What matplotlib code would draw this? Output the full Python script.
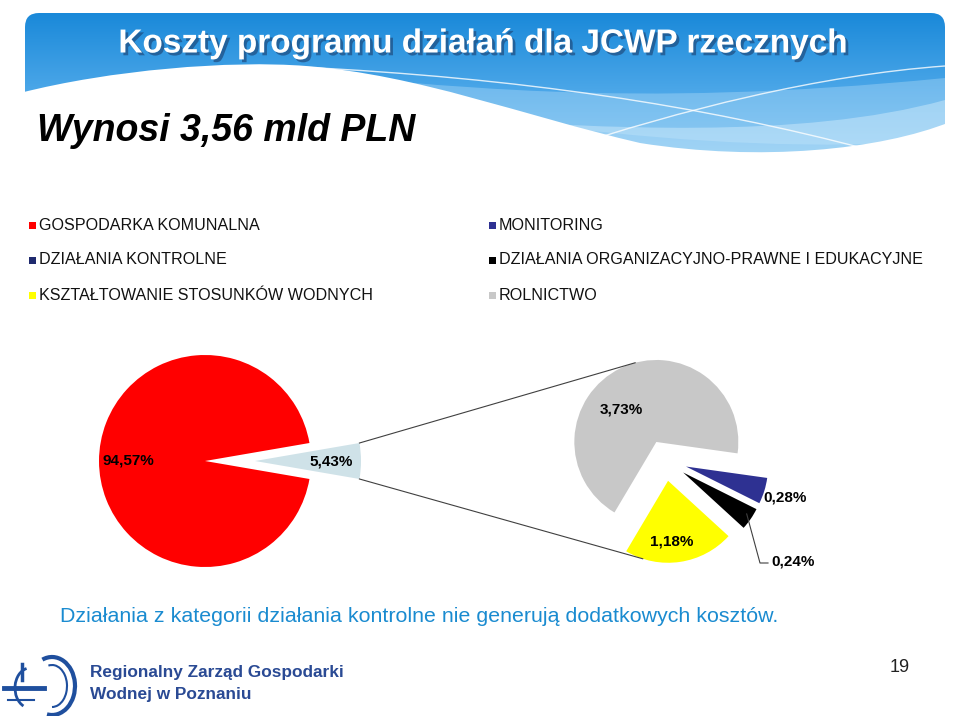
import numpy as np
import matplotlib.pyplot as plt
from matplotlib.patches import FancyBboxPatch, PathPatch, Rectangle, Arc
from matplotlib.path import Path
from matplotlib.colors import LinearSegmentedColormap
import matplotlib.patheffects as pe

W, H = 960, 716

title = "Koszty programu działań dla JCWP rzecznych"
subtitle = "Wynosi 3,56 mld PLN"
note = "Działania z kategorii działania kontrolne nie generują dodatkowych kosztów."
page_no = "19"
org_lines = ["Regionalny Zarząd Gospodarki", "Wodnej w Poznaniu"]

# legend entries (left column, then right column)
legend_labels = ["GOSPODARKA KOMUNALNA", "DZIAŁANIA KONTROLNE", "KSZTAŁTOWANIE STOSUNKÓW WODNYCH",
                 "MONITORING", "DZIAŁANIA ORGANIZACYJNO-PRAWNE I EDUKACYJNE", "ROLNICTWO"]
legend_colors = ["#ff0000", "#1f2a6e", "#ffff00", "#2e3192", "#000000", "#c8c8c8"]

# main pie: komunalna vs. the rest
main_values = [94.57, 5.43]
main_colors = ["#ff0000", "#cfe2e8"]

# secondary pie: split of the 5,43%
sub_labels = ["ROLNICTWO", "KSZTAŁTOWANIE STOSUNKÓW WODNYCH",
              "DZIAŁANIA ORGANIZACYJNO-PRAWNE I EDUKACYJNE", "MONITORING"]
sub_values = [3.73, 1.18, 0.24, 0.28]
sub_colors = ["#c8c8c8", "#ffff00", "#000000", "#2e3192"]

ARIAL = ["Liberation Sans", "DejaVu Sans"]


def P(x, y):
    # slide pixel coords (origin top-left) -> axes coords
    return x, H - y


def pct(v):
    return f"{v:.2f}%".replace(".", ",")


fig = plt.figure(figsize=(9.6, 7.16), dpi=100)
ax = fig.add_axes([0, 0, 1, 1])

# ---- header banner ----
box = FancyBboxPatch(P(25, 165), 920, 152, boxstyle="round,pad=0,rounding_size=14",
                     linewidth=0, facecolor="none")
ax.add_patch(box)
grad = np.linspace(0, 1, 256).reshape(-1, 1)
cmap = LinearSegmentedColormap.from_list("hdr", ["#1a89d9", "#4aa6e8", "#7cc3f2"])
im = ax.imshow(grad, cmap=cmap, aspect="auto", extent=[25, 945, H - 165, H - 13],
               origin="upper", zorder=0)
im.set_clip_path(box)

# lighter wave bands on the right
band = Path([P(260, 70), P(450, 85), P(620, 110), P(945, 78),
             P(945, 140), P(700, 160), P(400, 110), P(260, 70), P(260, 70)],
            [Path.MOVETO, Path.CURVE4, Path.CURVE4, Path.CURVE4,
             Path.LINETO, Path.CURVE4, Path.CURVE4, Path.CURVE4, Path.CLOSEPOLY])
ax.add_patch(PathPatch(band, facecolor="#bfe3fa", alpha=0.35, linewidth=0, zorder=1))
band2 = Path([P(450, 118), P(600, 128), P(800, 140), P(945, 100),
              P(945, 150), P(700, 170), P(450, 118), P(450, 118)],
             [Path.MOVETO, Path.CURVE4, Path.CURVE4, Path.CURVE4,
              Path.LINETO, Path.LINETO, Path.LINETO, Path.CLOSEPOLY])
ax.add_patch(PathPatch(band2, facecolor="#d6eefc", alpha=0.45, linewidth=0, zorder=1))

# white lower-left cut of the banner
cut = Path([P(20, 93), P(110, 70), P(230, 60), P(306, 66),
            P(420, 75), P(520, 115), P(640, 143),
            P(760, 162), P(880, 150), P(950, 122),
            P(950, 200), P(20, 200), P(20, 93)],
           [Path.MOVETO, Path.CURVE4, Path.CURVE4, Path.CURVE4,
            Path.CURVE4, Path.CURVE4, Path.CURVE4,
            Path.CURVE4, Path.CURVE4, Path.CURVE4,
            Path.LINETO, Path.LINETO, Path.CLOSEPOLY])
ax.add_patch(PathPatch(cut, facecolor="white", linewidth=0, zorder=2))

# thin white crossing lines
for pts in ([P(300, 67), P(520, 78), P(700, 105), P(870, 150)],
            [P(560, 150), P(680, 110), P(820, 75), P(945, 66)]):
    ax.add_patch(PathPatch(Path(pts, [Path.MOVETO, Path.CURVE4, Path.CURVE4, Path.CURVE4]),
                           facecolor="none", edgecolor="white", linewidth=1.0, alpha=0.8, zorder=3))

ax.text(*P(484, 44), title, ha="center", va="center", color="white", fontsize=24,
        fontweight="bold", family=ARIAL, zorder=5,
        path_effects=[pe.withSimplePatchShadow(offset=(2, -2), shadow_rgbFace="#1b3f6e", alpha=0.6)])
ax.text(*P(37, 131), subtitle, ha="left", va="center", color="black", fontsize=27,
        fontweight="bold", style="italic", family=ARIAL, zorder=5)

# ---- legend ----
for i, (lab, col) in enumerate(zip(legend_labels, legend_colors)):
    x = 30 if i < 3 else 490
    y = 225 + 35 * (i % 3)
    ax.add_patch(Rectangle(P(x - 1, y + 4), 7, 7, facecolor=col, linewidth=0))
    ax.text(*P(x + 9, y), lab, ha="left", va="center", fontsize=11.6, family=ARIAL, color="#111111")

# ---- main pie ----
r1 = 106
w1, _, _ = ax.pie(main_values, colors=main_colors, startangle=1.8 * main_values[1],
                  explode=[0, 50], center=P(205, 461), radius=r1,
                  autopct=lambda p: pct(p), pctdistance=0.72,
                  textprops=dict(fontsize=11, fontweight="bold", family=ARIAL),
                  wedgeprops=dict(linewidth=0))

# ---- secondary pie ----
w2, _ = ax.pie(sub_values, colors=sub_colors, startangle=-8, explode=[20, 21, 22, 22],
               center=P(665, 460), radius=82, wedgeprops=dict(linewidth=0))

sub_text_pos = [(621, 410, "center"), (672, 541, "center"), (771, 562, "left"), (763, 497, "left")]
for v, (x, y, ha) in zip(sub_values, sub_text_pos):
    ax.text(*P(x, y), pct(v), ha=ha, va="center", fontsize=11, fontweight="bold", family=ARIAL,
            zorder=6)

# connector lines from the small wedge to the secondary pie
sw = w1[1]
gray, yellow = w2[0], w2[1]
for ang_small, wedge, ang_big in ((sw.theta2, gray, 105), (sw.theta1, yellow, -108)):
    x0 = sw.center[0] + sw.r * np.cos(np.radians(ang_small))
    y0 = sw.center[1] + sw.r * np.sin(np.radians(ang_small))
    x1 = wedge.center[0] + wedge.r * np.cos(np.radians(ang_big))
    y1 = wedge.center[1] + wedge.r * np.sin(np.radians(ang_big))
    ax.plot([x0, x1], [y0, y1], color="#404040", linewidth=0.8, zorder=4)

# leader line for 0,24%
blk = w2[2]
mid = np.radians((blk.theta1 + blk.theta2) / 2)
lx = blk.center[0] + blk.r * np.cos(mid)
ly = blk.center[1] + blk.r * np.sin(mid)
ax.plot([lx - 4, 760, 768], [ly + 5, H - 563, H - 563], color="#404040", linewidth=0.8)

# ---- footer ----
ax.text(*P(60, 617), note, ha="left", va="center", fontsize=15.4, family=ARIAL, color="#1a8bd0")

# logo (simplified)
logo = "#1f4f9e"
ax.add_patch(Arc(P(52, 686), 46, 58, theta1=-100, theta2=110, color=logo, linewidth=3))
ax.add_patch(Arc(P(52, 686), 30, 42, theta1=-90, theta2=100, color=logo, linewidth=1.5))
ax.add_patch(Arc(P(30, 688), 30, 40, theta1=100, theta2=250, color=logo, linewidth=2))
ax.plot([4, 44], [H - 688, H - 688], color=logo, linewidth=3.5)
ax.plot([8, 34], [H - 700, H - 700], color=logo, linewidth=1.5)
ax.plot([22, 22], [H - 664, H - 680], color=logo, linewidth=2.5)

ax.text(*P(90, 673), org_lines[0], ha="left", va="center", fontsize=12.4, fontweight="bold",
        family=ARIAL, color="#2a4a94")
ax.text(*P(90, 695), org_lines[1], ha="left", va="center", fontsize=12.4, fontweight="bold",
        family=ARIAL, color="#2a4a94")
ax.text(*P(900, 667), page_no, ha="center", va="center", fontsize=13, family=ARIAL, color="#222222")

ax.set_xlim(0, W)
ax.set_ylim(0, H)
ax.set_aspect("equal")
ax.axis("off")

fig.savefig("out.png", dpi=100)
